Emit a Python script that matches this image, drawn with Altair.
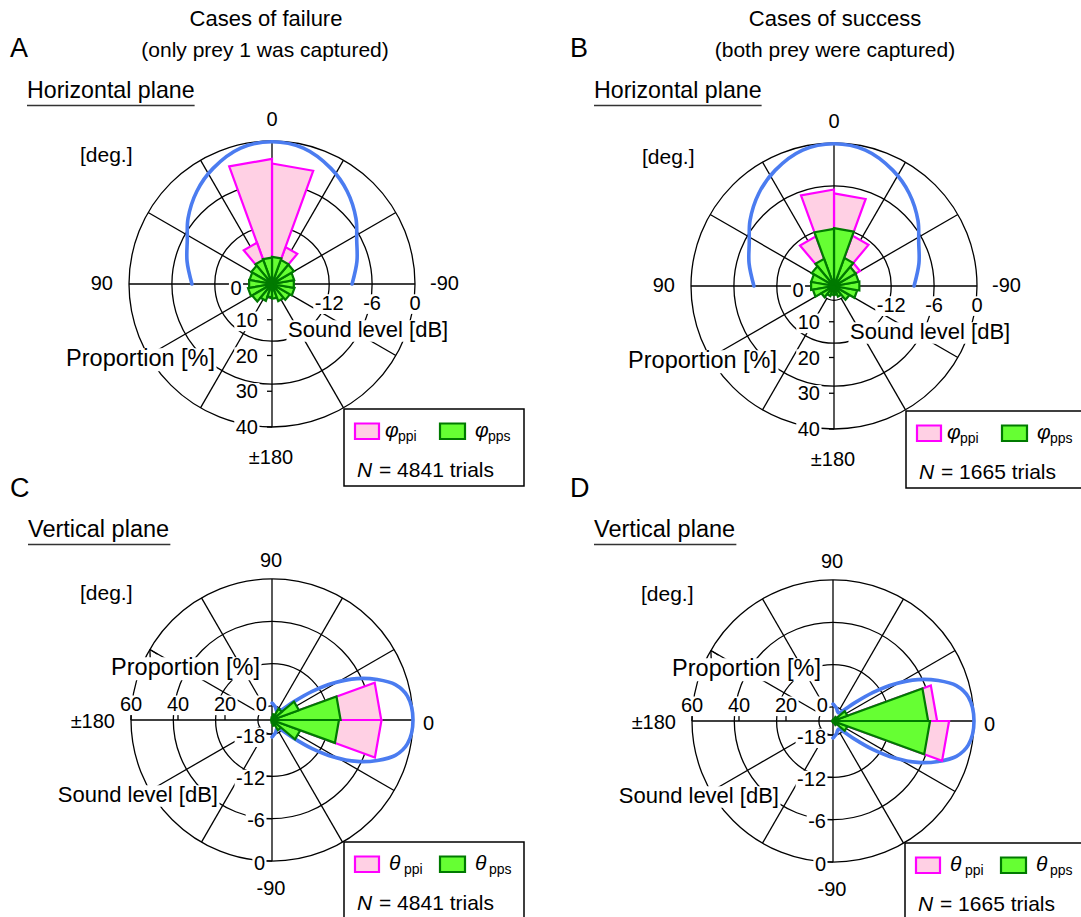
import math
import altair as alt
import pandas as pd

W, H = 1081, 917
FONT = "Liberation Sans"
PINK_FILL, PINK_LINE = "#ffd0e4", "#ff00ff"
GREEN_FILL, GREEN_LINE = "#66ff33", "#007a00"
BLUE = "#4b7cf0"

# ---------------- data ----------------
BIN_START = list(range(-180, 180, 20))      # 18 bins of 20 degrees
BIN_WIDTH = 20
# proportions [%] per bin (bins starting at -180, -160, ..., 160)
A_PPI = [0.3, 0.3, 0.3, 0.4, 0.5, 1.0, 2.5, 11.0, 33.7, 35.0, 12.3, 2.5, 1.0, 0.5, 0.4, 0.3, 0.3, 0.3]
A_PPS = [4.1, 5.1, 5.8, 6.4, 6.2, 6.3, 7.1, 7.2, 7.6, 7.4, 7.2, 6.7, 6.4, 6.5, 6.8, 6.4, 5.0, 3.7]
B_PPI = [0.3, 0.3, 0.3, 0.3, 0.5, 1.5, 8.4, 15.0, 25.9, 27.0, 14.8, 5.0, 1.5, 0.5, 0.3, 0.3, 0.3, 0.3]
B_PPS = [2.5, 3.2, 5.0, 6.6, 7.2, 7.0, 7.0, 8.4, 16.2, 16.0, 8.1, 7.2, 6.5, 6.5, 6.0, 4.1, 3.0, 2.5]
C_PPI = [0.1, 0.1, 0.1, 0.1, 0.1, 0.1, 0.5, 3.0, 46.6, 46.5, 3.0, 0.5, 0.1, 0.1, 0.1, 0.1, 0.1, 0.1]
C_PPS = [0.2, 0.2, 0.2, 0.3, 1.0, 2.5, 5.0, 12.8, 28.5, 29.2, 12.2, 5.5, 2.5, 1.0, 0.3, 0.2, 0.2, 0.2]
D_PPI = [0.1, 0.1, 0.1, 0.1, 0.1, 0.1, 0.5, 2.5, 49.4, 44.3, 2.5, 0.5, 0.1, 0.1, 0.1, 0.1, 0.1, 0.1]
D_PPS = [0.1, 0.1, 0.1, 0.2, 0.3, 0.8, 2.0, 6.5, 41.3, 40.5, 6.5, 2.0, 0.8, 0.3, 0.2, 0.1, 0.1, 0.1]

# sound level directivity (one side, mirrored)
H_LEVEL_ANG = [0, 13, 27, 39, 52, 63, 75, 90]
H_LEVEL_DB = [-0.1, -0.5, -1.85, -3.3, -5.1, -6.7, -7.7, -8.8]
V_LEVEL_ANG = [0, 10, 16, 21, 26, 31, 35.5, 40, 46, 55, 65, 75, 85, 90]
V_LEVEL_DB = [0.0, -0.5, -1.8, -4.0, -6.6, -9.8, -13.0, -16.0, -18.0, -18.6, -18.5, -18.1, -17.8, -17.6]

DB_RINGS = [-18, -12, -6, 0]
SPOKES = [30, 60, 120, 150, 210, 240, 300, 330]
AXES = [0, 90, 180, 270]
H_PROP_TICKS = [10, 20, 30, 40]
V_PROP_TICKS = [20, 40, 60]
H_DB_LABELS = [-12, -6, 0]
V_DB_LABELS = [-18, -12, -6, 0]
N_TRIALS = {"A": 4841, "B": 1665, "C": 4841, "D": 1665}

# ---------------- layout ----------------
PANELS = {
    "A": dict(cx=272.0, cy=284.0, R=143.0, off=90.0, pmax=40.0),
    "B": dict(cx=834.0, cy=286.0, R=143.0, off=90.0, pmax=40.0),
    "C": dict(cx=272.0, cy=720.0, R=141.0, off=0.0, pmax=60.0),
    "D": dict(cx=833.0, cy=721.0, R=141.0, off=0.0, pmax=60.0),
    "G": dict(cx=0.0, cy=0.0, R=0.0, off=0.0, pmax=1.0),
}
KIND = {"A": "h", "B": "h", "C": "v", "D": "v"}
SERIES = [("A", "ppi", A_PPI), ("A", "pps", A_PPS), ("B", "ppi", B_PPI), ("B", "pps", B_PPS),
          ("C", "ppi", C_PPI), ("C", "pps", C_PPS), ("D", "ppi", D_PPI), ("D", "pps", D_PPS)]

XS = alt.Scale(domain=[0, W])
YS = alt.Scale(domain=[0, H], reverse=True)


def X(f):
    return alt.X(f"{f}:Q", scale=XS, axis=None)


def Y(f):
    return alt.Y(f"{f}:Q", scale=YS, axis=None)


def tab(rows):
    df = pd.DataFrame(rows)
    for k in ("cx", "cy", "R", "off", "pmax"):
        df[k] = [PANELS[p][k] for p in df["panel"]]
    return df


def PX(r="datum.rn", ang="datum.ang"):
    return f"datum.cx + datum.R*({r})*cos(({ang} + datum.off)*PI/180)"


def PY(r="datum.rn", ang="datum.ang"):
    return f"datum.cy - datum.R*({r})*sin(({ang} + datum.off)*PI/180)"


AW = {' ': 278, '!': 278, '(': 333, ')': 333, '[': 278, ']': 278, '%': 889, '.': 278, '-': 333,
      '=': 584, '±': 549, 'A': 667, 'B': 667, 'C': 722, 'D': 722, 'H': 722, 'N': 722, 'P': 667,
      'S': 667, 'V': 667, 'a': 556, 'b': 556, 'c': 500, 'd': 556, 'e': 556, 'f': 278, 'g': 556,
      'h': 556, 'i': 222, 'l': 222, 'n': 556, 'o': 556, 'p': 556, 'r': 333, 's': 500, 't': 278,
      'u': 556, 'v': 500, 'w': 722, 'y': 500, 'z': 500}


def tw(s, size):
    return sum(AW.get(c, 556) for c in s) / 1000.0 * size


layers = []

# ---- grid rings ----
ring_rows = [dict(panel=p, ang=0, db=db) for p in "ABCD" for db in DB_RINGS]
layers.append(
    alt.Chart(tab(ring_rows))
    .transform_calculate(sz="4*pow(datum.R*(1 + datum.db/20), 2)")
    .mark_point(shape="circle", filled=False, stroke="black", strokeWidth=1.3, opacity=1)
    .encode(x=X("cx"), y=Y("cy"), size=alt.Size("sz:Q", scale=None, legend=None))
)

# ---- spokes & axes ----
spoke_rows = [dict(panel=p, ang=a, r0=0.1, r1=1.0) for p in "ABCD" for a in SPOKES]
spoke_rows += [dict(panel=p, ang=a, r0=0.0, r1=1.0) for p in "ABCD" for a in AXES]
layers.append(
    alt.Chart(tab(spoke_rows))
    .transform_calculate(x1=PX("datum.r0"), y1=PY("datum.r0"), x2=PX("datum.r1"), y2=PY("datum.r1"))
    .mark_rule(color="black", strokeWidth=1.3)
    .encode(x=X("x1"), y=Y("y1"), x2="x2:Q", y2="y2:Q")
)

# ---- ticks ----
tick_rows = []
for p in "ABCD":
    if KIND[p] == "h":
        for v in H_PROP_TICKS:
            tick_rows.append(dict(panel=p, ang=180, val=v, kind="p", dx1=-5, dx2=0, dy1=0, dy2=0))
    else:
        for v in V_PROP_TICKS:
            tick_rows.append(dict(panel=p, ang=180, val=v, kind="p", dx1=0, dx2=0, dy1=-6, dy2=0))
        for v in V_DB_LABELS:
            tick_rows.append(dict(panel=p, ang=-90, val=v, kind="d", dx1=-6, dx2=0, dy1=0, dy2=0))
layers.append(
    alt.Chart(tab(tick_rows))
    .transform_calculate(rn="datum.kind == 'p' ? datum.val/datum.pmax : 1 + datum.val/20")
    .transform_calculate(bx=PX(), by=PY())
    .transform_calculate(x1="datum.bx + datum.dx1", x2="datum.bx + datum.dx2",
                         y1="datum.by + datum.dy1", y2="datum.by + datum.dy2")
    .mark_rule(color="black", strokeWidth=1.3)
    .encode(x=X("x1"), y=Y("y1"), x2="x2:Q", y2="y2:Q")
)

# ---- arrowheads on outer ring of vertical panels ----
arrow_rows = []
for p in "CD":
    for side in (-1, 1):
        back = math.radians(-60 + side * 28)  # direction pointing back along the ring
        arrow_rows.append(dict(panel=p, ang=150, rn=1.0,
                               dx=9 * math.cos(back), dy=-9 * math.sin(back)))
layers.append(
    alt.Chart(tab(arrow_rows))
    .transform_calculate(x1=PX(), y1=PY())
    .transform_calculate(x2="datum.x1 + datum.dx", y2="datum.y1 + datum.dy")
    .mark_rule(color="black", strokeWidth=1.3)
    .encode(x=X("x1"), y=Y("y1"), x2="x2:Q", y2="y2:Q")
)

# ---- labels ----
labels = []


def L(panel, text, ox, oy, size, align="center", ang=0, rn=0.0, style="normal", box=True):
    labels.append(dict(panel=panel, text=text, ang=ang, rn=rn, ox=ox, oy=oy, size=size,
                       align=align, style=style, box=box))


for p in "ABCD":
    P = PANELS[p]
    if KIND[p] == "h":
        L(p, "0", 0, -15, 20, ang=0, rn=1)
        L(p, "90", -16, 6, 20, "right", ang=90, rn=1)
        L(p, "-90", 15, 6, 20, "left", ang=-90, rn=1)
        L(p, "±180", -1, 37, 20, ang=180, rn=1)
        L(p, "[deg.]", -192, -122, 21, "left")
        L(p, "0", -36, 11, 20)
        for d in H_DB_LABELS:
            L(p, str(d), 0, 25.5, 20, ang=-90, rn=1 + d / 20)
        for v in H_PROP_TICKS:
            L(p, str(v), -14, 7, 20, "right", ang=180, rn=v / P["pmax"])
        L(p, "Sound level [dB]", 16, 53, 22, "left")
        L(p, "Proportion [%]", -57, 82, 23.5, "right")
    else:
        L(p, "90", -1, -12, 20, ang=90, rn=1)
        L(p, "0", 10, 10, 20, "left", ang=0, rn=1)
        L(p, "-90", -1, 34, 20, ang=-90, rn=1)
        L(p, "±180", -16, 8, 20, "right", ang=180, rn=1)
        L(p, "[deg.]", -192, -120, 21, "left")
        L(p, "Proportion [%]", -12, -45, 23.5, "right")
        for v in V_PROP_TICKS:
            L(p, str(v), 0, -9.3, 20, ang=180, rn=v / P["pmax"])
        L(p, "0", -10.6, -9.3, 20)
        for d in V_DB_LABELS:
            L(p, str(d), -7, 8.5, 20, "right", ang=-90, rn=1 + d / 20)
        L(p, "Sound level [dB]", -54, 82, 22, "right")

lab_df = pd.DataFrame(labels)
bx1, bx2 = [], []
for _, r in lab_df.iterrows():
    w = tw(r["text"], r["size"])
    left = {"left": 0.0, "center": -w / 2, "right": -w}[r["align"]]
    bx1.append(left - 1.5)
    bx2.append(left + w + 1.5)
lab_df["bx1"] = bx1
lab_df["bx2"] = bx2
lab_df["by1"] = -0.76 * lab_df["size"]
lab_df["by2"] = 0.22 * lab_df["size"]
lab_tab = tab(lab_df.to_dict("records"))

layers.append(
    alt.Chart(lab_tab)
    .transform_filter("datum.box")
    .transform_calculate(bx=PX() + " + datum.ox", by=PY() + " + datum.oy")
    .transform_calculate(x1="datum.bx + datum.bx1", x2="datum.bx + datum.bx2",
                         y1="datum.by + datum.by1", y2="datum.by + datum.by2")
    .mark_rect(fill="white", stroke=None)
    .encode(x=X("x1"), y=Y("y1"), x2="x2:Q", y2="y2:Q")
)


def text_layers(df_tab):
    out = []
    for (al, st) in sorted(set(zip(df_tab["align"], df_tab["style"]))):
        out.append(
            alt.Chart(df_tab)
            .transform_filter(f"datum.align == '{al}' && datum.style == '{st}'")
            .transform_calculate(tx=PX() + " + datum.ox", ty=PY() + " + datum.oy")
            .mark_text(align=al, baseline="alphabetic", font=FONT, fontStyle=st, color="black")
            .encode(x=X("tx"), y=Y("ty"), text="text:N", size=alt.Size("size:Q", scale=None, legend=None))
        )
    return out


layers += text_layers(lab_tab)

# ---- sound level curves ----
blue_rows = []
for p in "ABCD":
    angs, dbs = (H_LEVEL_ANG, H_LEVEL_DB) if KIND[p] == "h" else (V_LEVEL_ANG, V_LEVEL_DB)
    seq = [(-a, d) for a, d in zip(angs[::-1], dbs[::-1])] + list(zip(angs[1:], dbs[1:]))
    for k, (a, d) in enumerate(seq):
        blue_rows.append(dict(panel=p, ang=a, db=d, k=k))
layers.append(
    alt.Chart(tab(blue_rows))
    .transform_calculate(rn="1 + datum.db/20")
    .transform_calculate(bx=PX(), by=PY())
    .mark_line(color=BLUE, strokeWidth=3.6, interpolate="catmull-rom", strokeCap="round")
    .encode(x=X("bx"), y=Y("by"), detail="panel:N", order="k:Q")
)

# ---- rose wedges ----
for s, fill, line in (("ppi", PINK_FILL, PINK_LINE), ("pps", GREEN_FILL, GREEN_LINE)):
    rows = []
    for p, ser, vals in SERIES:
        if ser != s:
            continue
        for i, (a0, v) in enumerate(zip(BIN_START, vals)):
            key = f"{p}{i}"
            for vi, (a, fr) in enumerate([(a0, 0), (a0, 1), (a0 + BIN_WIDTH, 1), (a0 + BIN_WIDTH, 0)]):
                rows.append(dict(panel=p, key=key, v=vi, ang=a, fr=fr, val=v))
    layers.append(
        alt.Chart(tab(rows))
        .transform_calculate(rn="datum.fr*datum.val/datum.pmax")
        .transform_calculate(bx=PX(), by=PY())
        .mark_line(fill=fill, stroke=line, strokeWidth=2.2, strokeJoin="miter", interpolate="linear")
        .encode(x=X("bx"), y=Y("by"), detail="key:N", order="v:Q")
    )

# ---- legends ----
leg_box = []
leg_sw = []
leg_lab = []
for p in "ABCD":
    P = PANELS[p]
    h = KIND[p] == "h"
    bx, by = (72, 125) if h else (72, 122)
    leg_box.append(dict(panel=p, x1=bx, y1=by, x2=bx + 180, y2=by + 77))
    leg_sw.append(dict(panel=p, s="ppi", x1=bx + 11, y1=by + 14.5, x2=bx + 35, y2=by + 30))
    leg_sw.append(dict(panel=p, s="pps", x1=bx + 96, y1=by + 14.5, x2=bx + 121, y2=by + 30))
    sym = "φ" if h else "θ"
    s1, u1 = (41, 54) if h else (45, 60)
    s2, u2 = (131, 144) if h else (131, 145)
    for t, ox, oy, sz, st in ((sym, s1, 28, 21, "italic"), ("ppi", u1, 31.5, 14, "normal"),
                              (sym, s2, 28, 21, "italic"), ("pps", u2, 31.5, 14, "normal"),
                              ("N", 13, 68, 21, "italic"), (f"= {N_TRIALS[p]} trials", 35, 68, 21, "normal")):
        leg_lab.append(dict(panel=p, text=t, ang=0, rn=0, ox=bx + ox, oy=by + oy, size=sz,
                            align="left", style=st))

box_tab = tab(leg_box)
layers.append(
    alt.Chart(box_tab)
    .transform_calculate(a="datum.cx + datum.x1", b="datum.cx + datum.x2",
                         c="datum.cy + datum.y1", d="datum.cy + datum.y2")
    .mark_rect(fill="white", stroke="black", strokeWidth=1.5)
    .encode(x=X("a"), x2="b:Q", y=Y("c"), y2="d:Q")
)
sw_tab = tab(leg_sw)
for s, fill, line in (("ppi", PINK_FILL, PINK_LINE), ("pps", GREEN_FILL, GREEN_LINE)):
    layers.append(
        alt.Chart(sw_tab)
        .transform_filter(f"datum.s == '{s}'")
        .transform_calculate(a="datum.cx + datum.x1", b="datum.cx + datum.x2",
                             c="datum.cy + datum.y1", d="datum.cy + datum.y2")
        .mark_rect(fill=fill, stroke=line, strokeWidth=2.2)
        .encode(x=X("a"), x2="b:Q", y=Y("c"), y2="d:Q")
    )
layers += text_layers(tab(leg_lab))

# ---- headers ----
hdr = []


def G(text, x, y, size, align="left", style="normal"):
    hdr.append(dict(panel="G", text=text, ang=0, rn=0, ox=x, oy=y, size=size, align=align, style=style))


G("Cases of failure", 266, 26, 22, "center")
G("(only prey 1 was captured)", 265, 57, 21, "center")
G("Cases of success", 835, 26, 22, "center")
G("(both prey were captured)", 835, 57, 21, "center")
G("A", 10, 57, 27)
G("B", 570, 57, 27)
G("C", 10, 497, 27)
G("D", 570, 497, 27)
G("Horizontal plane", 27, 98, 23.2)
G("Horizontal plane", 594, 98, 23.2)
G("Vertical plane", 28, 537, 23.5)
G("Vertical plane", 594, 537, 23.5)
layers += text_layers(tab(hdr))

ul_rows = []
for r in hdr:
    if "plane" in r["text"]:
        ul_rows.append(dict(panel="G", x1=r["ox"], x2=r["ox"] + tw(r["text"], r["size"]), y=r["oy"] + 7.5))
layers.append(
    alt.Chart(pd.DataFrame(ul_rows))
    .mark_rule(color="#333333", strokeWidth=1.6)
    .encode(x=X("x1"), x2="x2:Q", y=Y("y"))
)

chart = (
    alt.layer(*layers)
    .properties(width=W, height=H, autosize=alt.AutoSizeParams(type="none"), padding=0, background="white")
    .configure_view(stroke=None)
)
chart.save("out.html", embed_options={"renderer": "svg", "actions": False})
